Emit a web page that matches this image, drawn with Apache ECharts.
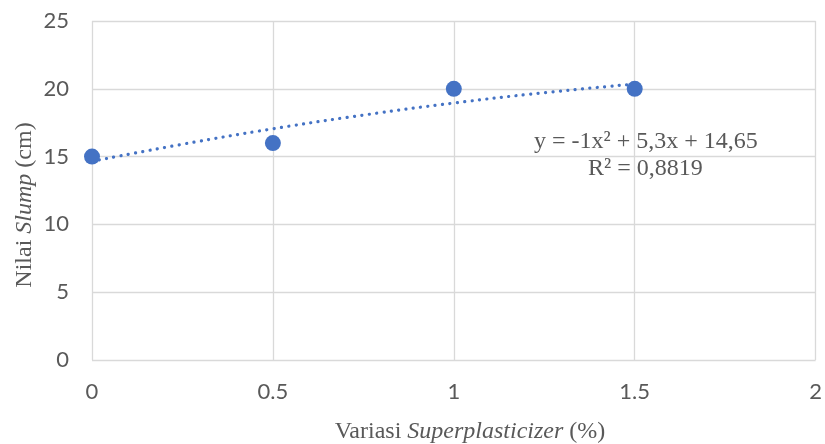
<!DOCTYPE html>
<html>
<head>
<meta charset="utf-8">
<script src="https://cdn.jsdelivr.net/npm/echarts@6/dist/echarts.min.js"></script>
<style>html,body{margin:0;padding:0;background:#fff;}#c{width:825px;height:444px;}</style>
</head>
<body>
<div id="c"></div>
<script>
// Data
const xValues = [0, 0.5, 1, 1.5];
const slumpValues = [15, 16, 20, 20];
// Trendline (polynomial, order 2)
const trendX = [0, 0.25, 0.5, 0.75, 1, 1.25, 1.5];
const trendY = [14.65, 15.91, 17.05, 18.06, 18.95, 19.71, 20.35];
const equationText = 'y = -1x\u00B2 + 5,3x + 14,65';
const r2Text = 'R\u00B2 = 0,8819';

const chart = echarts.init(document.getElementById('c'), null, {renderer: 'canvas'});
const gray = '#595959';
const serif = '"Liberation Serif", "Times New Roman", serif';
const sans = 'Lato, "Open Sans", sans-serif';
const titleRich = {
  n: {fontFamily: serif, fontSize: 24, fill: gray, color: gray},
  i: {fontFamily: serif, fontSize: 24, fill: gray, color: gray, fontStyle: 'italic'}
};

chart.setOption({
  animation: false,
  backgroundColor: '#fff',
  grid: {left: 92, right: 7, top: 21, bottom: 84, containLabel: false},
  xAxis: {
    type: 'value', min: 0, max: 2, interval: 0.5,
    axisLine: {show: false},
    axisTick: {show: false},
    splitLine: {show: true, lineStyle: {color: '#d9d9d9', width: 1.3}},
    axisLabel: {color: gray, fontSize: 22, fontFamily: sans, margin: 21}
  },
  yAxis: {
    type: 'value', min: 0, max: 25, interval: 5,
    axisLine: {show: false},
    axisTick: {show: false},
    splitLine: {show: true, lineStyle: {color: '#d9d9d9', width: 1.3}},
    axisLabel: {color: gray, fontSize: 22, fontFamily: sans, margin: 23}
  },
  series: [
    {
      type: 'line',
      data: trendX.map((x, i) => [x, trendY[i]]),
      smooth: true,
      symbol: 'none',
      lineStyle: {color: '#4472C4', width: 3.2, type: [0.1, 7.3], cap: 'round'},
      z: 2
    },
    {
      type: 'scatter',
      data: xValues.map((x, i) => [x, slumpValues[i]]),
      symbol: 'circle',
      symbolSize: 16,
      itemStyle: {color: '#4472C4', opacity: 1},
      z: 3
    }
  ],
  graphic: [
    {type: 'text', left: 534, top: 130, style: {text: equationText, font: '24px ' + serif, fill: gray}},
    {type: 'text', left: 588, top: 157, style: {text: r2Text, font: '24px ' + serif, fill: gray}},
    {type: 'text', x: 470, y: 432, style: {
      text: '{n|Variasi }{i|Superplasticizer}{n| (%)}', rich: titleRich, fill: gray,
      align: 'center', verticalAlign: 'middle'}},
    {type: 'text', x: 25, y: 205, rotation: Math.PI / 2, style: {
      text: '{n|Nilai }{i|Slump}{n| (cm)}', rich: titleRich, fill: gray,
      align: 'center', verticalAlign: 'middle'}}
  ]
});
</script>
</body>
</html>
